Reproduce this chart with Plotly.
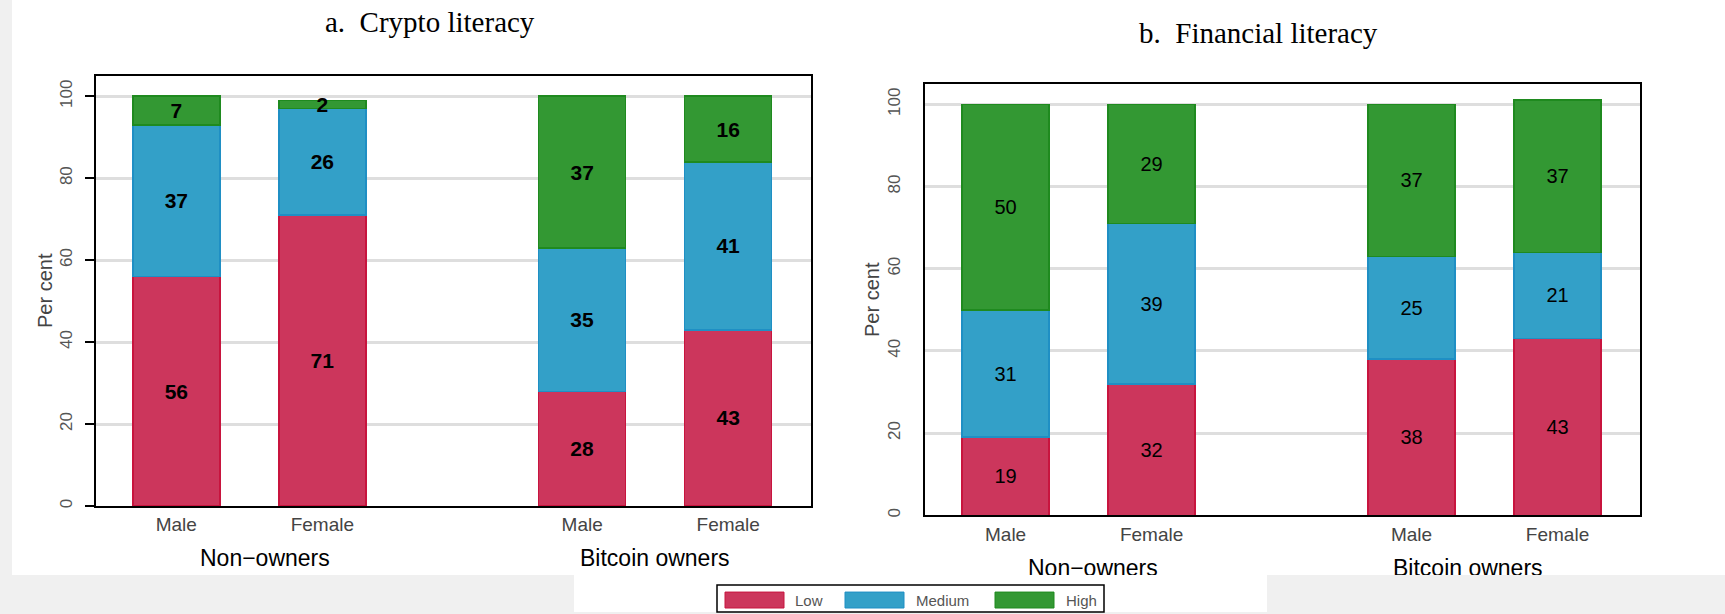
import plotly.graph_objects as go

# ---- data -------------------------------------------------------------
genders = ["Male", "Female"]
groups = ["Non\u2212owners", "Bitcoin owners"]
levels = ["Low", "Medium", "High"]

# Panel a: crypto literacy (per cent), order: non-owner M/F, owner M/F
crypto_low = [56, 71, 28, 43]
crypto_medium = [37, 26, 35, 41]
crypto_high = [7, 2, 37, 16]

# Panel b: financial literacy (per cent)
fin_low = [19, 32, 38, 43]
fin_medium = [31, 39, 25, 21]
fin_high = [50, 29, 37, 37]

y_ticks = [0, 20, 40, 60, 80, 100]

# ---- style ------------------------------------------------------------
W, H = 1725, 614
fill = {"Low": "#cc365c", "Medium": "#33a0c8", "High": "#339833"}
edge = {"Low": "#c8143e", "Medium": "#1f8fc4", "High": "#1f8a1f"}
GAP = 0.78  # extra space between the two owner groups
SANS = "Liberation Sans, Arial, sans-serif"
SERIF = "Liberation Serif, Times New Roman, serif"

# bar slots: gender inside group, groups separated by GAP
positions = [g * (len(genders) + GAP) + i
             for g in range(len(groups)) for i in range(len(genders))]
tick_text = [genders[i] for g in range(len(groups)) for i in range(len(genders))]


def px_x(v):
    return v / W


def px_y(v):
    return 1 - v / H


fig = go.Figure()

panels = [
    ("x", "y", [crypto_low, crypto_medium, crypto_high], "bold", 21),
    ("x2", "y2", [fin_low, fin_medium, fin_high], "normal", 20),
]
for xa, ya, series, weight, fsize in panels:
    for name, vals in zip(levels, series):
        fig.add_trace(go.Bar(
            x=positions, y=vals, name=name, xaxis=xa, yaxis=ya,
            width=0.596, showlegend=False,
            marker=dict(color=fill[name], line=dict(color=edge[name], width=1.5)),
            text=vals, texttemplate="%{text}", textposition="inside",
            insidetextanchor="middle", textangle=0, constraintext="none",
            textfont=dict(family=SANS, size=fsize, color="black", weight=weight),
            hoverinfo="skip",
        ))

common_x = dict(
    range=[-0.552, 4.345], tickmode="array", tickvals=positions, ticktext=tick_text,
    tickfont=dict(family=SANS, size=19, color="#444"), ticks="",
    showline=True, mirror=True, linecolor="black", linewidth=2,
    showgrid=False, zeroline=False, fixedrange=True,
)
common_y = dict(
    range=[0, 105], tickmode="array", tickvals=y_ticks, tickangle=-90,
    tickfont=dict(family=SANS, size=17, color="#555"),
    showline=True, mirror=True, linecolor="black", linewidth=2,
    showgrid=True, gridcolor="#dedede", gridwidth=3, zeroline=False,
    fixedrange=True,
)

fig.update_layout(
    width=W, height=H, margin=dict(l=0, r=0, t=0, b=0),
    paper_bgcolor="#f0f0f0", plot_bgcolor="white", barmode="stack",
    xaxis=dict(common_x, domain=[px_x(95.7), px_x(810.7)], anchor="y", ticklabelstandoff=0),
    yaxis=dict(common_y, domain=[px_y(507.7), px_y(76)], anchor="x",
               ticks="outside", ticklen=9, tickwidth=2, tickcolor="black",
               ticklabelstandoff=6),
    xaxis2=dict(common_x, domain=[px_x(925), px_x(1640)], anchor="y2", ticklabelstandoff=1),
    yaxis2=dict(common_y, domain=[px_y(517), px_y(84)], anchor="x2",
                ticks="", ticklabelstandoff=16),
    showlegend=False,
)

# white panel backgrounds behind the plots
shapes = [
    dict(type="rect", xref="paper", yref="paper", layer="below",
         x0=px_x(12), x1=1, y0=px_y(577), y1=1,
         fillcolor="white", line=dict(width=0)),
    dict(type="rect", xref="paper", yref="paper", layer="below",
         x0=px_x(574), x1=px_x(1267), y0=0, y1=px_y(577),
         fillcolor="white", line=dict(width=0)),
]

annotations = [
    dict(text="a.  Crypto literacy", x=px_x(430), y=px_y(22), xref="paper", yref="paper",
         xanchor="center", yanchor="middle", showarrow=False,
         font=dict(family=SERIF, size=29, color="black")),
    dict(text="b.  Financial literacy", x=px_x(1258), y=px_y(33), xref="paper", yref="paper",
         xanchor="center", yanchor="middle", showarrow=False,
         font=dict(family=SERIF, size=29, color="black")),
    # y-axis titles
    dict(text="Per cent", x=px_x(45), y=px_y(292), xref="paper", yref="paper", textangle=-90,
         xanchor="center", yanchor="middle", showarrow=False,
         font=dict(family=SANS, size=20, color="#444")),
    dict(text="Per cent", x=px_x(872), y=px_y(300), xref="paper", yref="paper", textangle=-90,
         xanchor="center", yanchor="middle", showarrow=False,
         font=dict(family=SANS, size=20, color="#444")),
]

# group labels under each panel
for xa, centers, ytop, clip in [("x", [0.606, 3.277], 545, None), ("x2", [0.6, 3.17], 555, 20)]:
    for label, cx in zip(groups, centers):
        ann = dict(text=label, x=cx, xref=xa, y=px_y(ytop), yref="paper",
                   xanchor="center", yanchor="top", valign="top", showarrow=False,
                   font=dict(family=SANS, size=23, color="black"))
        if clip:
            ann["height"] = clip
        annotations.append(ann)

# legend box
shapes.append(dict(type="rect", xref="paper", yref="paper",
                   x0=px_x(717), x1=px_x(1104), y0=px_y(614), y1=px_y(587),
                   fillcolor="white", line=dict(color="black", width=1.5)))
legend_items = [("Low", 725, 793), ("Medium", 845, 914), ("High", 995, 1064)]
for name, sx, tx in legend_items:
    shapes.append(dict(type="rect", xref="paper", yref="paper",
                       x0=px_x(sx), x1=px_x(sx + 59), y0=px_y(610), y1=px_y(594),
                       fillcolor=fill[name], line=dict(color=edge[name], width=1)))
    annotations.append(dict(text=name, x=px_x(tx), y=px_y(602), xref="paper", yref="paper",
                            xanchor="left", yanchor="middle", showarrow=False,
                            font=dict(family=SANS, size=15, color="#555")))

fig.update_layout(shapes=shapes, annotations=annotations)
fig.write_html("out.html")
